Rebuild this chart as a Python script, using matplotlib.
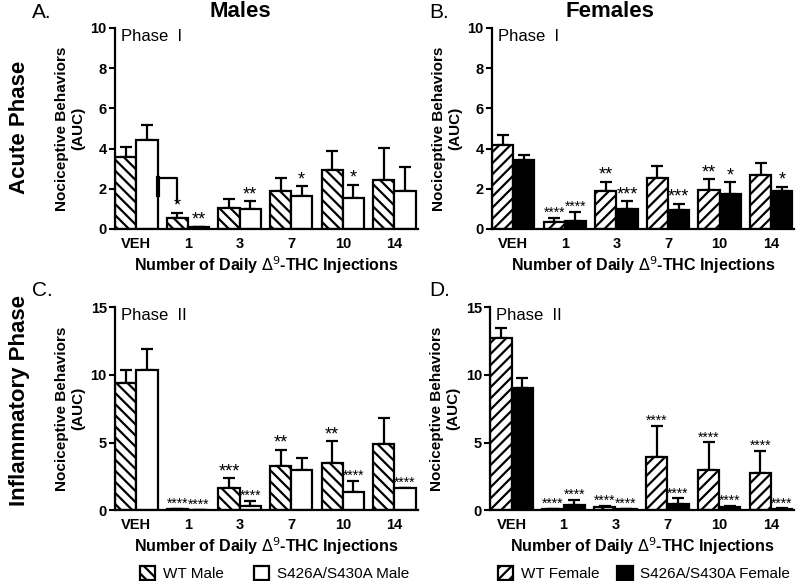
import numpy as np
from matplotlib import pyplot as plt
from matplotlib.patches import Patch

groups = ["VEH", "1", "3", "7", "10", "14"]

# Phase I (acute)
wt_male_acute = [3.60, 0.55, 1.05, 1.87, 2.92, 2.45]
wt_male_acute_err = [0.45, 0.25, 0.44, 0.65, 0.94, 1.57]
ko_male_acute = [4.41, 0.08, 0.98, 1.65, 1.55, 1.90]
ko_male_acute_err = [0.76, 0.02, 0.40, 0.47, 0.65, 1.19]

wt_female_acute = [4.16, 0.33, 1.91, 2.52, 1.94, 2.68]
wt_female_acute_err = [0.53, 0.21, 0.44, 0.62, 0.53, 0.61]
ko_female_acute = [3.42, 0.41, 1.00, 0.92, 1.73, 1.91]
ko_female_acute_err = [0.25, 0.43, 0.37, 0.33, 0.59, 0.19]

# Phase II (inflammatory)
wt_male_infl = [9.42, 0.05, 1.65, 3.25, 3.49, 4.92]
wt_male_infl_err = [0.96, 0.02, 0.69, 1.22, 1.62, 1.92]
ko_male_infl = [10.33, 0.02, 0.34, 2.95, 1.33, 1.62]
ko_male_infl_err = [1.62, 0.01, 0.32, 0.91, 0.81, 0.05]

wt_female_infl = [12.75, 0.05, 0.20, 3.92, 2.99, 2.75]
wt_female_infl_err = [0.73, 0.03, 0.12, 2.33, 2.03, 1.61]
ko_female_infl = [9.02, 0.37, 0.05, 0.44, 0.25, 0.07]
ko_female_infl_err = [0.73, 0.37, 0.02, 0.42, 0.07, 0.05]

# significance marks
wt_male_acute_sig = ["", "*", "", "", "", ""]
ko_male_acute_sig = ["", "**", "**", "*", "*", ""]
wt_female_acute_sig = ["", "****", "**", "", "**", ""]
ko_female_acute_sig = ["", "****", "***", "***", "*", "*"]
wt_male_infl_sig = ["", "****", "***", "**", "**", ""]
ko_male_infl_sig = ["", "****", "****", "", "****", "****"]
wt_female_infl_sig = ["", "****", "****", "****", "****", "****"]
ko_female_infl_sig = ["", "****", "****", "****", "****", "****"]

W = 0.41
plt.rcParams["hatch.linewidth"] = 1.6
plt.rcParams["font.family"] = "Liberation Sans"


def panel(ax, wt, wt_err, ko, ko_err, wt_sig, ko_sig, hatch, ko_color, ymax, step, phase):
    x = np.arange(len(groups))
    for xs, vals, errs, sig, kw in [
        (x - W / 2, wt, wt_err, wt_sig, dict(color="white", hatch=hatch)),
        (x + W / 2, ko, ko_err, ko_sig, dict(color=ko_color)),
    ]:
        ax.bar(xs, vals, W, edgecolor="black", linewidth=1.6, zorder=2, **kw)
        ax.errorbar(xs, vals, yerr=[np.zeros(len(vals)), errs], fmt="none",
                    ecolor="black", elinewidth=1.6, capsize=4, capthick=1.6, zorder=1)
        for xi, v, e, s in zip(xs, vals, errs, sig):
            if s:
                ax.text(xi, v + e - ymax * 0.01, s, ha="center", va="bottom",
                        fontsize=13 if len(s) < 4 else 10)
    ax.set_xlim(-W, len(groups) - 1 + W + 0.04)
    ax.set_ylim(0, ymax)
    ax.set_yticks(np.arange(0, ymax + 0.1, step))
    ax.set_xticks(x)
    ax.set_xticklabels(groups, fontweight="bold", fontsize=10.5)
    for lab in ax.get_yticklabels():
        lab.set_fontweight("bold")
        lab.set_fontsize(10.5)
    ax.tick_params(axis="x", length=0, pad=6)
    ax.tick_params(axis="y", width=1.5, length=4, pad=2)
    for s in ["top", "right"]:
        ax.spines[s].set_visible(False)
    for s in ["left", "bottom"]:
        ax.spines[s].set_linewidth(1.6)
    ax.set_ylabel("Nociceptive Behaviors\n(AUC)", fontweight="bold", fontsize=11, labelpad=4)
    ax.set_xlabel("Number of Daily $\\Delta^9$-THC Injections", fontweight="bold", fontsize=11.5, labelpad=2)
    ax.text(0.02, 0.995, phase, transform=ax.transAxes, fontsize=12, va="top", ha="left")


def plot():
    fig = plt.figure(figsize=(8, 5.81), dpi=100)
    ax_a = fig.add_axes([0.144, 0.606, 0.378, 0.346])
    ax_b = fig.add_axes([0.615, 0.606, 0.378, 0.346])
    ax_c = fig.add_axes([0.144, 0.122, 0.378, 0.349])
    ax_d = fig.add_axes([0.613, 0.122, 0.380, 0.349])

    panel(ax_a, wt_male_acute, wt_male_acute_err, ko_male_acute, ko_male_acute_err,
          wt_male_acute_sig, ko_male_acute_sig, "\\\\\\", "white", 10, 2, "Phase  I")
    panel(ax_b, wt_female_acute, wt_female_acute_err, ko_female_acute, ko_female_acute_err,
          wt_female_acute_sig, ko_female_acute_sig, "///", "black", 10, 2, "Phase  I")
    panel(ax_c, wt_male_infl, wt_male_infl_err, ko_male_infl, ko_male_infl_err,
          wt_male_infl_sig, ko_male_infl_sig, "\\\\\\", "white", 15, 5, "Phase  II")
    panel(ax_d, wt_female_infl, wt_female_infl_err, ko_female_infl, ko_female_infl_err,
          wt_female_infl_sig, ko_female_infl_sig, "///", "black", 15, 5, "Phase  II")

    # bracket in panel A
    ax_a.plot([W, 1 - W / 2, 1 - W / 2], [2.54, 2.54, 1.34], color="black", lw=1.6, zorder=3)
    ax_a.plot([W, W], [2.54, 1.7], color="black", lw=3, zorder=3)

    fig.text(0.30, 0.98, "Males", fontsize=16, fontweight="bold", ha="center", va="center")
    fig.text(0.763, 0.98, "Females", fontsize=16, fontweight="bold", ha="center", va="center")
    for x, y, t in [(0.04, 0.978, "A."), (0.537, 0.978, "B."), (0.04, 0.50, "C."), (0.537, 0.50, "D.")]:
        fig.text(x, y, t, fontsize=15, ha="left", va="center")
    fig.text(0.025, 0.78, "Acute Phase", fontsize=16, fontweight="bold", rotation=90, ha="center", va="center")
    fig.text(0.025, 0.31, "Inflammatory Phase", fontsize=16, fontweight="bold", rotation=90, ha="center", va="center")

    male_handles = [Patch(facecolor="white", edgecolor="black", hatch="\\\\\\", lw=1.6, label="WT Male"),
                    Patch(facecolor="white", edgecolor="black", lw=1.6, label="S426A/S430A Male")]
    female_handles = [Patch(facecolor="white", edgecolor="black", hatch="///", lw=1.6, label="WT Female"),
                      Patch(facecolor="black", edgecolor="black", lw=1.6, label="S426A/S430A Female")]
    for handles, xc, cs in [(male_handles, 0.343, 2.0), (female_handles, 0.805, 1.2)]:
        fig.legend(handles=handles, loc="center", bbox_to_anchor=(xc, 0.013), ncol=2, frameon=False,
                   fontsize=11, handlelength=1.0, handleheight=1.0, handletextpad=0.5, columnspacing=cs,
                   borderpad=0)

    fig.savefig("out.png", dpi=100)
    plt.close(fig)


if __name__ == "__main__":
    plot()
